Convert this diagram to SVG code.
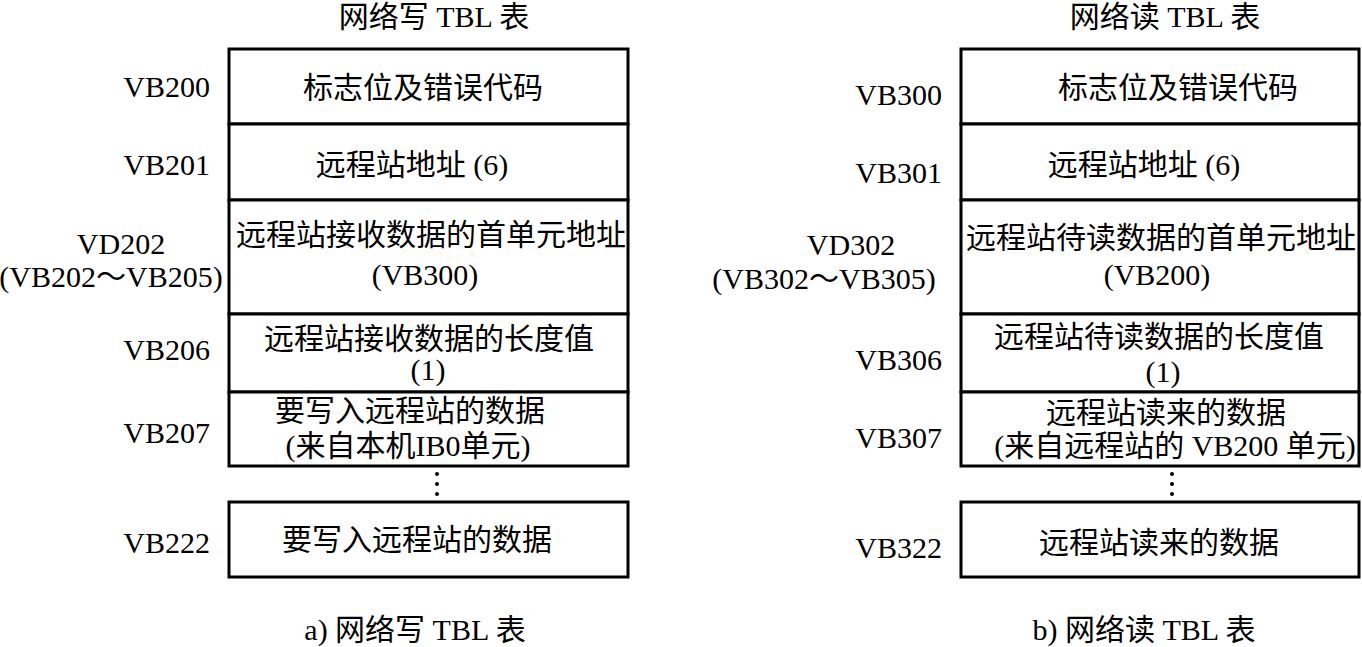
<svg xmlns="http://www.w3.org/2000/svg" width="1362" height="647" viewBox="0 0 1362 647">
<style>
.t{font-family:'Liberation Serif','Noto Sans CJK SC',serif;font-size:30px;fill:#000}
.m{text-anchor:middle}
.r{text-anchor:end}
.cell{fill:#fff;stroke:#000;stroke-width:3}
.dot{fill:#000}
</style>
<rect width="1362" height="647" fill="#fff"/>

<g id="write-table" class="t" font-family="'Liberation Serif', 'Noto Sans CJK SC', serif" font-size="30">
  <text class="m" x="434" y="27">网络写 TBL 表</text>
  <g id="w-row0">
    <rect class="cell" x="229" y="49" width="399" height="75"/>
    <text class="r" x="210" y="97">VB200</text>
    <text class="m" x="423" y="98">标志位及错误代码</text>
  </g>
  <g id="w-row1">
    <rect class="cell" x="229" y="124" width="399" height="76"/>
    <text class="r" x="210" y="175">VB201</text>
    <text class="m" x="412" y="175">远程站地址 (6)</text>
  </g>
  <g id="w-row2">
    <rect class="cell" x="229" y="200" width="399" height="114"/>
    <text class="m" x="121" y="254">VD202</text>
    <text class="m" x="111" y="287">(VB202～VB205)</text>
    <text class="m" x="431" y="245">远程站接收数据的首单元地址</text>
    <text class="m" x="425" y="285">(VB300)</text>
  </g>
  <g id="w-row3">
    <rect class="cell" x="229" y="314" width="399" height="78"/>
    <text class="r" x="210" y="360">VB206</text>
    <text class="m" x="429" y="349">远程站接收数据的长度值</text>
    <text class="m" x="428" y="380">(1)</text>
  </g>
  <g id="w-row4">
    <rect class="cell" x="229" y="392" width="399" height="74"/>
    <text class="r" x="210" y="443">VB207</text>
    <text class="m" x="410" y="421">要写入远程站的数据</text>
    <text class="m" x="408" y="456">(来自本机IB0单元)</text>
  </g>
  <g id="w-dots">
    <circle class="dot" cx="437" cy="474" r="2"/>
    <circle class="dot" cx="437" cy="484" r="2"/>
    <circle class="dot" cx="437" cy="494" r="2"/>
  </g>
  <g id="w-row5">
    <rect class="cell" x="229" y="502" width="399" height="75"/>
    <text class="r" x="210" y="553">VB222</text>
    <text class="m" x="417" y="550">要写入远程站的数据</text>
  </g>
  <text class="m" x="415" y="640">a) 网络写 TBL 表</text>
</g>

<g id="read-table" class="t" font-family="'Liberation Serif', 'Noto Sans CJK SC', serif" font-size="30">
  <text class="m" x="1165" y="27">网络读 TBL 表</text>
  <g id="r-row0">
    <rect class="cell" x="961" y="49" width="398" height="75"/>
    <text class="r" x="942" y="105">VB300</text>
    <text class="m" x="1178" y="98">标志位及错误代码</text>
  </g>
  <g id="r-row1">
    <rect class="cell" x="961" y="124" width="398" height="76"/>
    <text class="r" x="942" y="183">VB301</text>
    <text class="m" x="1144" y="175">远程站地址 (6)</text>
  </g>
  <g id="r-row2">
    <rect class="cell" x="961" y="200" width="398" height="114"/>
    <text class="m" x="851" y="255">VD302</text>
    <text class="m" x="824" y="289">(VB302～VB305)</text>
    <text class="m" x="1161" y="248">远程站待读数据的首单元地址</text>
    <text class="m" x="1157" y="285">(VB200)</text>
  </g>
  <g id="r-row3">
    <rect class="cell" x="961" y="314" width="398" height="78"/>
    <text class="r" x="942" y="370">VB306</text>
    <text class="m" x="1159" y="347">远程站待读数据的长度值</text>
    <text class="m" x="1163" y="382">(1)</text>
  </g>
  <g id="r-row4">
    <rect class="cell" x="961" y="392" width="398" height="74"/>
    <text class="r" x="942" y="448">VB307</text>
    <text class="m" x="1166" y="423">远程站读来的数据</text>
    <text class="m" x="1175" y="456">(来自远程站的 VB200 单元)</text>
  </g>
  <g id="r-dots">
    <circle class="dot" cx="1172" cy="474" r="2"/>
    <circle class="dot" cx="1172" cy="484" r="2"/>
    <circle class="dot" cx="1172" cy="494" r="2"/>
  </g>
  <g id="r-row5">
    <rect class="cell" x="961" y="502" width="398" height="75"/>
    <text class="r" x="942" y="558">VB322</text>
    <text class="m" x="1159" y="553">远程站读来的数据</text>
  </g>
  <text class="m" x="1144" y="640">b) 网络读 TBL 表</text>
</g>

<g id="connectors"/>
</svg>
